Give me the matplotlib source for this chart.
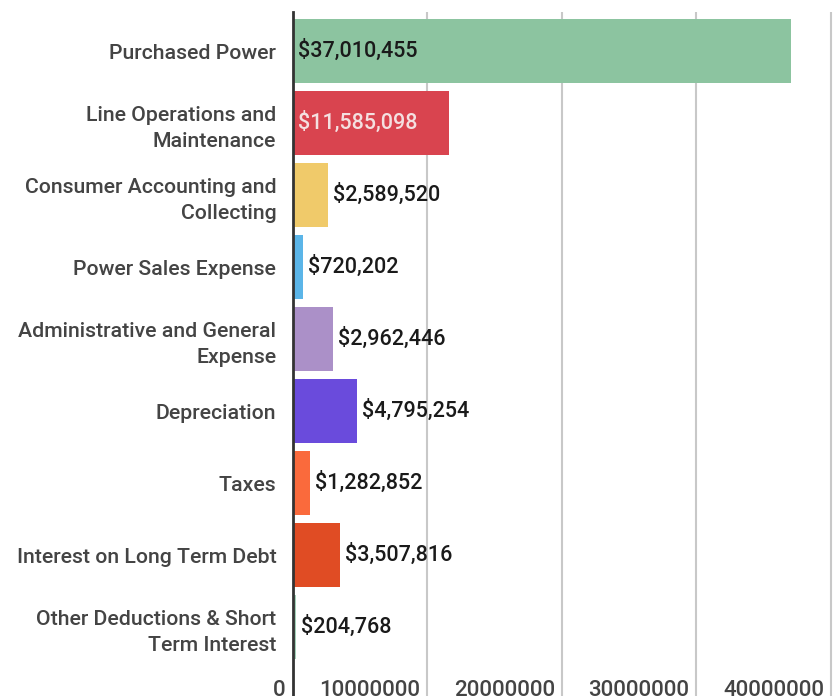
import matplotlib.pyplot as plt
from matplotlib.transforms import blended_transform_factory, ScaledTranslation

categories = ['Purchased Power', 'Line Operations and\nMaintenance',
              'Consumer Accounting and\nCollecting', 'Power Sales Expense',
              'Administrative and General\nExpense', 'Depreciation', 'Taxes',
              'Interest on Long Term Debt', 'Other Deductions & Short\nTerm Interest']
values = [37010455, 11585098, 2589520, 720202, 2962446, 4795254, 1282852, 3507816, 204768]
colors = ['#8cc4a0', '#d9444f', '#f0ca6a', '#5bb5e8', '#ab90c8', '#6a4bdc',
          '#fa6a3c', '#e04c24', '#a3d1b8']
xticks = [0, 10000000, 20000000, 30000000, 40000000]

plt.rcParams['font.family'] = ['Roboto', 'DejaVu Sans']

fig = plt.figure(figsize=(8.4, 6.96), dpi=100)
W, H = 840, 696
ax = fig.add_axes([293 / W, 0, (W - 293) / W, (H - 12) / H])

pos = list(range(len(values)))
ax.barh(pos, values, height=0.89, color=colors, zorder=3)
ax.set_ylim(8.958, -0.542)
ax.set_xlim(0, 40.67e6)

for s in ['top', 'right', 'bottom']:
    ax.spines[s].set_visible(False)
ax.spines['left'].set_color('#333333')
ax.spines['left'].set_linewidth(2)
ax.spines['left'].set_zorder(5)

ax.set_xticks(xticks)
ax.xaxis.grid(True, color='#c8c8c8', linewidth=1.5, zorder=0)
ax.tick_params(axis='x', length=0, labelbottom=False)
ax.set_yticks(pos)
ax.set_yticklabels(categories, fontsize=15.3, color='#444444', fontweight='medium',
                   linespacing=1.45)
ax.tick_params(axis='y', length=0, pad=12)

# tick labels drawn inside the bottom, right-aligned to the gridlines
tr = blended_transform_factory(ax.transData, ax.transAxes)
for t in xticks:
    ax.text(t, 0, str(t), transform=tr + ScaledTranslation(-7 / 100, -5 / 100, fig.dpi_scale_trans),
            ha='right', va='bottom', fontsize=16, color='#444444', fontweight='medium',
            clip_on=False)

for i, v in enumerate(values):
    label = '${:,}'.format(v)
    if v > 10000000:
        c = '#1a1a1a' if i == 0 else '#f4e0e0'
        ax.annotate(label, (0, i), xytext=(5, 0), textcoords='offset pixels',
                    ha='left', va='center', fontsize=15.5, color=c, fontweight='medium', zorder=6)
    else:
        ax.annotate(label, (v, i), xytext=(5, 0), textcoords='offset pixels',
                    ha='left', va='center', fontsize=15.5, color='#1a1a1a', fontweight='medium', zorder=6)

fig.savefig('out.png', dpi=100)
